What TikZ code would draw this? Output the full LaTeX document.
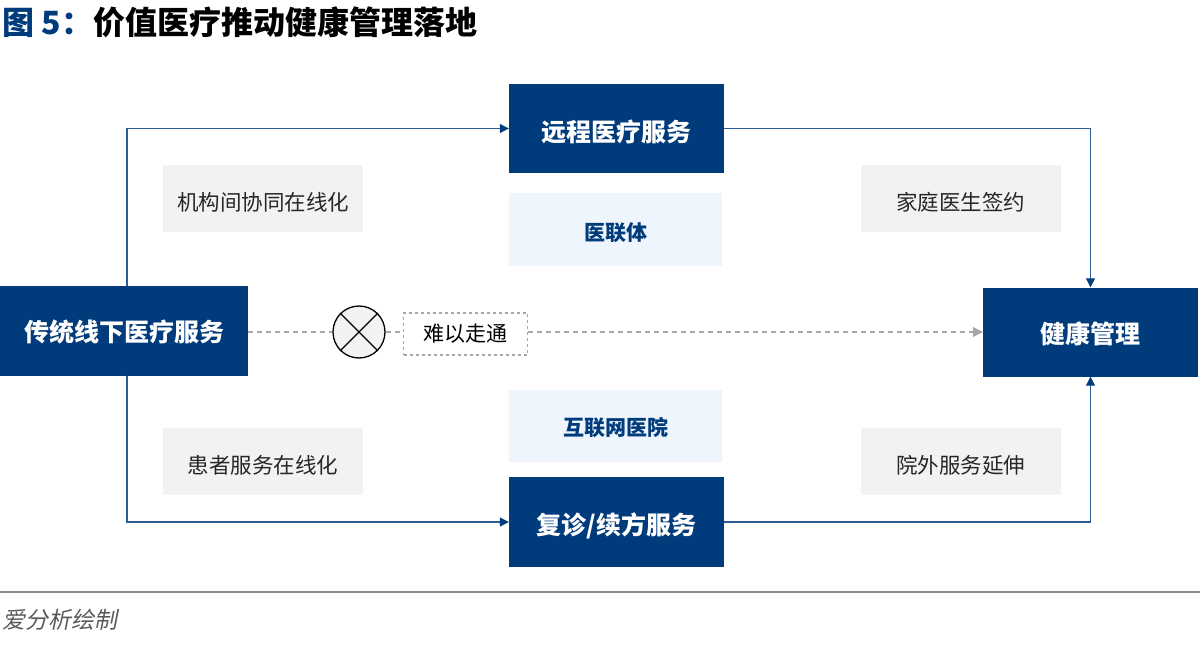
\documentclass[tikz,border=0pt]{standalone}
\usepackage{fontspec}
\setmainfont{Noto Sans CJK SC}
\newfontfamily\cjkit{Noto Sans CJK SC}[FakeSlant=0.2]
\usetikzlibrary{arrows.meta}
\definecolor{dblue}{HTML}{003B7B}
\definecolor{lblue}{HTML}{EEF5FC}
\definecolor{lgray}{HTML}{F2F2F2}
\definecolor{lineblue}{HTML}{2E5C99}
\definecolor{dgray}{HTML}{A6A6A6}
\tikzset{
  darkbox/.style={fill=dblue, draw=none, text=white, inner sep=0pt, minimum width=215pt, minimum height=89pt, font=\bfseries\fontsize{25}{25}\selectfont, text height=26pt, text depth=0pt},
  lightbox/.style={fill=lblue, draw=none, text=dblue, inner sep=0pt, minimum width=213pt, minimum height=73pt, font=\bfseries\fontsize{21}{21}\selectfont, text height=21.5pt, text depth=0pt},
  graybox/.style={fill=lgray, draw=none, text=black!85, inner sep=0pt, minimum width=200pt, minimum height=67pt, font=\fontsize{21.5}{21.5}\selectfont, text height=24.5pt, text depth=0pt},
  flow/.style={draw=lineblue, line width=1.1pt, -{Triangle[length=9pt,width=9pt,fill=dblue,color=dblue]}},
  dline/.style={draw=dgray, line width=1.1pt, dash pattern=on 5pt off 4pt},
}
\begin{document}
\begin{tikzpicture}[x=1pt,y=-1pt]
\useasboundingbox (0,0) rectangle (1200,645);
% title
\node[anchor=west, inner sep=0pt, font=\bfseries\fontsize{32}{32}\selectfont] (title) at (2,22) {\textcolor{dblue}{图 5：}价值医疗推动健康管理落地};
% boxes
\node[darkbox] (remote) at (616.5,128.5) {远程医疗服务};
\node[lightbox] (ylt) at (615.5,229.5) {医联体};
\node[graybox] (jg) at (263,198) {机构间协同在线化};
\node[graybox] (jt) at (960.5,198) {家庭医生签约};
\node[darkbox, minimum width=248pt, minimum height=90pt, text height=22.5pt] (trad) at (124,330.5) {传统线下医疗服务};
\node[darkbox, text height=22.5pt] (health) at (1090.5,332) {健康管理};
\node[lightbox, minimum height=72pt, text height=20pt] (hlw) at (615.5,425.5) {互联网医院};
\node[graybox] (hz) at (263,461.5) {患者服务在线化};
\node[graybox] (yw) at (960.5,461.5) {院外服务延伸};
\node[darkbox, minimum height=90pt, text height=25pt] (fz) at (616.5,522) {复诊/续方服务};
% blocked path
\node[circle, draw=black, line width=1.3pt, fill=lgray, minimum size=52pt, inner sep=0pt] (x) at (359,332) {};
\draw[line width=1.3pt] (x.45) -- (x.225) (x.135) -- (x.-45);
\node[draw=dgray, dashed, line width=1.1pt, fill=white, inner sep=0pt, minimum width=124pt, minimum height=42pt, font=\fontsize{21}{21}\selectfont] (hard) at (465.5,334) {难以走通};
\draw[dline] (trad.east |- 0,332) -- (x.west);
\draw[dline] (x.east) -- (hard.west |- 0,332);
\draw[dline, -{Triangle[length=10pt,width=10pt,fill=dgray,color=dgray]}] (hard.east |- 0,332) -- (health.west |- 0,332);
% flows
\draw[flow] (127,285.5) |- (remote.west);
\draw[flow] (remote.east) -| (health.north);
\draw[flow] (127,375.5) |- (fz.west);
\draw[flow] (fz.east) -| (health.south);
% footer
\draw[draw=black!45, line width=1.3pt] (0,592) -- (1200,592);
\node[anchor=west, inner sep=0pt, text=black!65, font=\cjkit\fontsize{23}{23}\selectfont] (src) at (2,620) {爱分析绘制};
\end{tikzpicture}
\end{document}
